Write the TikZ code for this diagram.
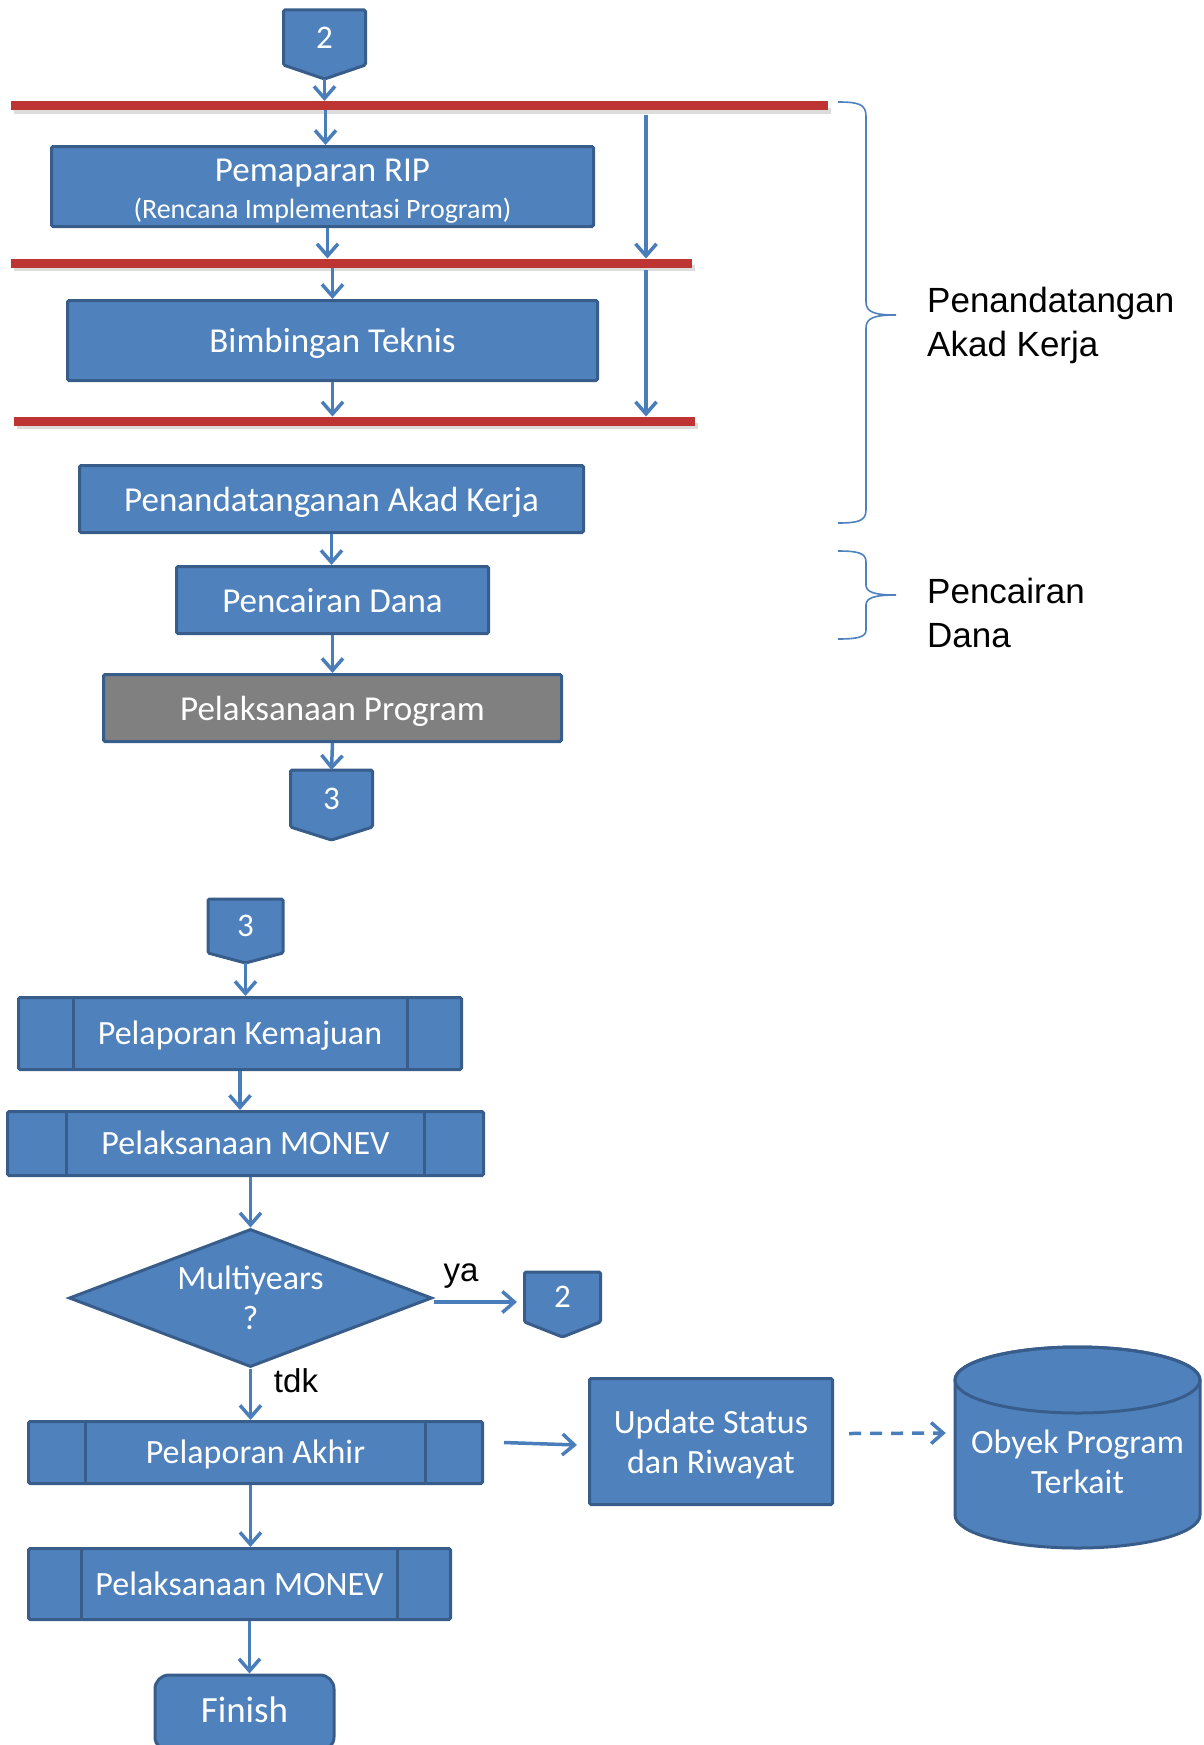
\documentclass[tikz,border=0pt]{standalone}
\usepackage{fontspec}
\usetikzlibrary{arrows.meta,shapes.geometric,calc}
\newfontfamily\boxfont{Carlito}
\newfontfamily\lblfont{Liberation Sans}
\definecolor{bfill}{RGB}{79,129,189}
\definecolor{bdr}{RGB}{56,93,138}
\definecolor{arrc}{RGB}{74,126,187}
\definecolor{redc}{RGB}{190,52,50}
\definecolor{gfill}{RGB}{128,128,128}
% off-page connector: name, centre x, top y, width, body height, tip depth, text
\newcommand\offpage[7]{%
  \draw[connshape] (#2-#4/2,#3) -- (#2+#4/2,#3) -- (#2+#4/2,#3+#5)
    -- (#2,#3+#5+#6) -- (#2-#4/2,#3+#5) -- cycle;
  \node[conntext] (#1) at (#2,#3+#5/2) {#7};
  \coordinate (#1top) at (#2,#3);
  \coordinate (#1left) at (#2-#4/2,#3+#5/2);
  \coordinate (#1tip) at (#2,#3+#5+#6);}
\begin{document}
\begin{tikzpicture}[x=1pt,y=-1pt,
  box/.style={draw=bdr, fill=bfill, line width=3pt, text=white, inner sep=0pt,
    align=center, rounded corners=1.5pt, font=\boxfont\fontsize{35}{40}\selectfont},
  boxtext/.style={inner sep=0pt, align=center, text=white, font=\boxfont\fontsize{34}{40}\selectfont},
  onebox/.style={box, text height=28pt, text depth=4pt},
  lowbox/.style={box, text height=27pt, text depth=5pt, font=\boxfont\fontsize{34}{40}\selectfont},
  connshape/.style={draw=bdr, fill=bfill, line width=3pt, rounded corners=1.5pt},
  conntext/.style={inner sep=0pt, text=white, font=\boxfont\fontsize{33}{38}\selectfont},
  arr/.style={draw=arrc, line width=3.5pt, -{Straight Barb[length=12pt,width=21pt]}},
  dasharr/.style={arr, dash pattern=on 12pt off 9pt},
  redline/.style={draw=redc, line width=9pt},
  redshadow/.style={draw=black!30, line width=6pt, opacity=0.45},
  brace/.style={draw=bfill, line width=1.6pt},
  innerline/.style={draw=bdr, line width=3pt},
  lbl/.style={inner sep=0pt, align=left, font=\lblfont\fontsize{35}{44}\selectfont},
  small/.style={inner sep=0pt, font=\lblfont\fontsize{33}{38}\selectfont}
]
\useasboundingbox (0,0) rectangle (1204,1745);

% ---------- phase separators ----------
\coordinate (r1w) at (11,105.5);  \coordinate (r1e) at (828,105.5);
\coordinate (r2w) at (11,263);    \coordinate (r2e) at (692,263);
\coordinate (r3w) at (14,421);    \coordinate (r3e) at (695,421);
\foreach \w/\e in {r1w/r1e, r2w/r2e, r3w/r3e}
  \draw[redshadow] ($(\w)+(3,5)$) -- ($(\e)+(3,5)$);
\foreach \w/\e in {r1w/r1e, r2w/r2e, r3w/r3e}
  \draw[redline] (\w) -- (\e);
\coordinate (r1t) at (0,101);  \coordinate (r1b) at (0,110);
\coordinate (r2t) at (0,258.5);\coordinate (r2b) at (0,267.5);
\coordinate (r3t) at (0,416.5);

% ---------- upper flow ----------
\offpage{c2}{324.5}{10}{82}{55}{14}{2}
\node[box, minimum width=542pt, minimum height=80pt] (p1) at (322.5,186.5) {};
\node[boxtext, font=\boxfont\fontsize{35}{40}\selectfont] (p1t) at ($(p1.center)+(0,5)$)
  {Pemaparan RIP\\[-3pt]{\fontsize{28}{32}\selectfont(Rencana Implementasi Program)}};
\node[onebox, minimum width=530pt, minimum height=80pt] (p2) at (332.5,340.5) {Bimbingan Teknis};
\node[onebox, minimum width=504pt, minimum height=67pt] (p3) at (331.5,499) {Penandatanganan Akad Kerja};
\node[onebox, minimum width=312pt, minimum height=67pt] (p4) at (332.5,600) {Pencairan Dana};
\node[onebox, fill=gfill, minimum width=458pt, minimum height=67pt] (p5) at (332.5,708) {Pelaksanaan Program};
\offpage{c3}{331.5}{770}{82}{57}{13}{3}

\draw[arr] (c2tip) -- (c2tip |- r1t);
\draw[arr] ($(p1.north |- r1b)+(3,0)$) -- ($(p1.north)+(3,0)$);
\draw[arr] ($(p1.south)+(5,0)$) -- ($(p1.south |- r2t)+(5,0)$);
\draw[arr] (p2.north |- r2b) -- (p2.north);
\draw[arr] (p2.south) -- (p2.south |- r3t);
\coordinate (s1) at (646,115);
\coordinate (s2) at (646,270);
\draw[arr] (s1) -- (s1 |- r2t);
\draw[arr] (s2) -- (s2 |- r3t);
\draw[arr] (p3.south) -- (p3.south |- p4.north);
\draw[arr] (p4.south) -- (p5.north);
\draw[arr] (p5.south) -- (c3top);

% ---------- braces and phase names ----------
\draw[brace] (838,102) .. controls (858,102) and (866,104) .. (866,116)
  -- (866,302) .. controls (866,312) and (874,315) .. (896,315)
  .. controls (874,315) and (866,318) .. (866,328)
  -- (866,510) .. controls (866,521) and (858,523) .. (838,523);
\draw[brace] (838,551) .. controls (858,551) and (866,553) .. (866,562)
  -- (866,585) .. controls (866,592) and (874,595) .. (896,595)
  .. controls (874,595) and (866,598) .. (866,605)
  -- (866,630) .. controls (866,637) and (858,639) .. (838,639);
\node[lbl, anchor=west] (t1) at (927,325.5) {Penandatangan\\Akad Kerja};
\node[lbl, anchor=west] (t2) at (927,612.5) {Pencairan\\Dana};

% ---------- lower flow ----------
\offpage{c3b}{245.5}{899}{75}{54}{10}{3}
\node[lowbox, minimum width=443pt, minimum height=72pt] (q1) at (240,1033.5) {Pelaporan Kemajuan};
\draw[innerline] ($(q1.north west)+(56,0)$) -- ($(q1.south west)+(56,0)$);
\draw[innerline] ($(q1.north east)+(-56,0)$) -- ($(q1.south east)+(-56,0)$);
\node[lowbox, minimum width=476pt, minimum height=64pt] (q2) at (245.5,1143.5) {Pelaksanaan MONEV};
\draw[innerline] ($(q2.north west)+(60,0)$) -- ($(q2.south west)+(60,0)$);
\draw[innerline] ($(q2.north east)+(-61,0)$) -- ($(q2.south east)+(-61,0)$);
\node[box, shape=diamond, aspect=2.63, minimum width=363pt, minimum height=138pt,
  rounded corners=0pt, font=\boxfont\fontsize{34}{40}\selectfont] (d) at (250.5,1298) {Multiyears\\?};
\offpage{c2b}{562.5}{1272}{76}{50}{15}{2}
\node[lowbox, minimum width=454pt, minimum height=62pt] (q3) at (255.5,1452.5) {Pelaporan Akhir};
\draw[innerline] ($(q3.north west)+(58,0)$) -- ($(q3.south west)+(58,0)$);
\draw[innerline] ($(q3.north east)+(-59,0)$) -- ($(q3.south east)+(-59,0)$);
\node[box, minimum width=243pt, minimum height=126pt] (us) at (711,1441.5) {};
\node[boxtext] (ust) at ($(us.center)+(0,2.5)$) {Update Status\\dan Riwayat};
\node[lowbox, minimum width=422pt, minimum height=71pt] (q4) at (239.5,1584) {Pelaksanaan MONEV};
\draw[innerline] ($(q4.north west)+(54,0)$) -- ($(q4.south west)+(54,0)$);
\draw[innerline] ($(q4.north east)+(-55,0)$) -- ($(q4.south east)+(-55,0)$);
\node[box, rounded corners=14pt, minimum width=179pt, minimum height=76pt,
  text height=27pt, text depth=8pt, font=\boxfont\fontsize{37}{42}\selectfont] (fin) at (244.5,1713) {Finish};

% data store
\path[fill=bfill, draw=bdr, line width=3pt] (955,1380) -- (955,1515)
  arc[start angle=180, end angle=0, x radius=122.5, y radius=33]
  -- (1200,1380) arc[start angle=0, end angle=-180, x radius=122.5, y radius=33] -- cycle;
\draw[bdr, line width=3pt] (1077.5,1380) ellipse[x radius=122.5, y radius=33];
\node[boxtext, minimum width=245pt, minimum height=135pt] (db) at (1077.5,1462) {Obyek Program\\Terkait};

\draw[arr] (c3btip) -- (c3btip |- q1.north);
\draw[arr] (q1.south) -- (q1.south |- q2.north);
\draw[arr] (d.north |- q2.south) -- (d.north);
\draw[arr] (d.south) -- (d.south |- q3.north);
\draw[arr] ($(d.east)+(0,4)$) -- ($(d.east -| c2bleft)+(-7.5,4)$);
\node[small] (ya) at (461,1276) {ya};
\node[small] (tdk) at (296,1381) {tdk};
\draw[arr] ($(q3.south)+(-5,0)$) -- ($(q3.south |- q4.north)+(-5,0)$);
\draw[arr] ($(fin.north |- q4.south)+(5,0)$) -- ($(fin.north)+(5,0)$);
\draw[arr] ($(q3.east)+(20,-10)$) -- ($(us.west)+(-11,3.5)$);
\draw[dasharr] ($(us.east)+(15,-8)$) -- ($(db.west)+(-9,-29)$);
\end{tikzpicture}
\end{document}
